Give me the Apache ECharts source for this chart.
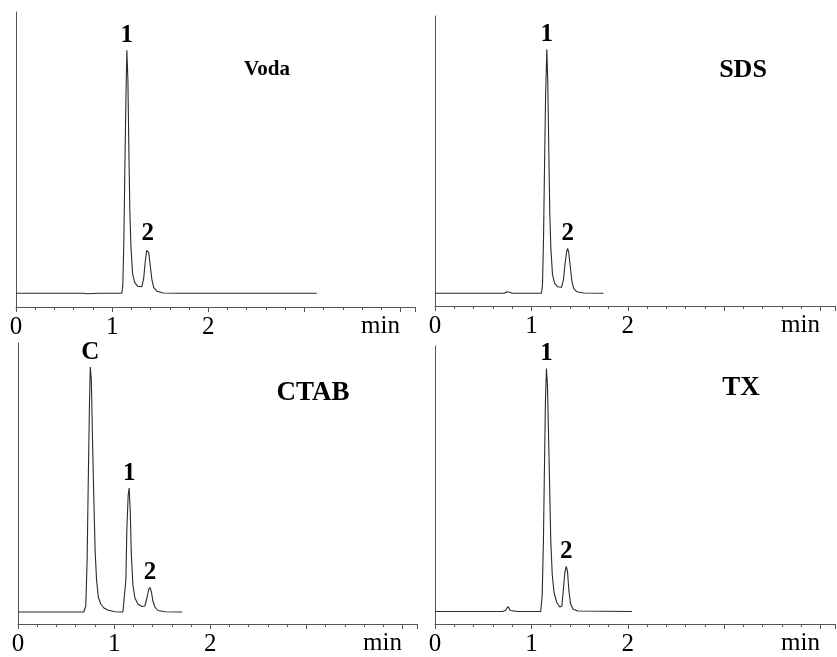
<!DOCTYPE html>
<html>
<head>
<meta charset="utf-8">
<script src="https://cdn.jsdelivr.net/npm/echarts@6/dist/echarts.min.js"></script>
<style>
html,body{margin:0;padding:0;background:#fff;}
#chart{width:837px;height:657px;}
</style>
</head>
<body>
<div id="chart"></div>
<script>
// ---- Data (time in min, detector signal in arbitrary units) ----
const panelNames = ['Voda', 'SDS', 'CTAB', 'TX'];
const xTickLabels = ['0', '1', '2'];
const xUnit = 'min';

const vodaTime   = [0, 0.70, 0.72, 0.74, 0.86, 0.875, 0.89, 1.101, 1.111, 1.122, 1.132, 1.143, 1.153, 1.164, 1.174, 1.184, 1.195, 1.212, 1.234, 1.266, 1.309, 1.328, 1.344, 1.359, 1.370, 1.380, 1.396, 1.413, 1.432, 1.466, 1.531, 1.708, 3.13];
const vodaSignal = [0, 0, -1.5, -0.5, 0, 0.8, 0, 0, 8, 53, 123, 193, 243, 213, 143, 83, 48, 20, 11, 7, 6.6, 15, 31, 43, 45, 41, 28, 14, 6, 2, 0.3, 0, 0];
const vodaPeaks  = [[1.153, 243, '1'], [1.370, 45, '2']];

const sdsTime   = [0, 0.72, 0.745, 0.757, 0.775, 0.80, 1.104, 1.115, 1.126, 1.136, 1.147, 1.160, 1.170, 1.181, 1.191, 1.202, 1.219, 1.241, 1.273, 1.313, 1.333, 1.350, 1.366, 1.376, 1.387, 1.402, 1.419, 1.438, 1.472, 1.54, 1.747];
const sdsSignal = [0, 0, 1.5, 2, 1, 0, 0, 8, 55, 125, 195, 244, 212, 140, 80, 45, 19, 10, 6.5, 6, 14, 30, 42, 45, 41, 28, 13, 5, 1.5, 0.3, 0];
const sdsPeaks  = [[1.160, 244, '1'], [1.376, 45, '2']];

const ctabTime   = [0, 0.684, 0.705, 0.719, 0.731, 0.744, 0.752, 0.763, 0.775, 0.789, 0.802, 0.817, 0.835, 0.861, 0.893, 0.934, 1.007, 1.091, 1.111, 1.122, 1.132, 1.146, 1.156, 1.167, 1.179, 1.195, 1.216, 1.247, 1.289, 1.320, 1.341, 1.358, 1.372, 1.388, 1.403, 1.424, 1.455, 1.528, 1.708];
const ctabSignal = [0, 0, 6, 52, 132, 212, 245, 232, 172, 112, 62, 32, 15, 8, 4, 2, 0.3, 0, 2, 32, 82, 117, 124, 102, 57, 27, 14, 8, 5.5, 6, 14, 22, 24.5, 20, 11, 5, 1.5, 0.3, 0];
const ctabPeaks  = [[0.752, 245, 'C'], [1.156, 124, '1'], [1.372, 24.5, '2']];

const txTime   = [0, 0.70, 0.73, 0.757, 0.78, 0.80, 0.86, 0.872, 0.885, 1.097, 1.112, 1.125, 1.135, 1.146, 1.156, 1.167, 1.177, 1.188, 1.201, 1.217, 1.235, 1.264, 1.295, 1.316, 1.333, 1.347, 1.362, 1.375, 1.388, 1.405, 1.430, 1.482, 2.045];
const txSignal = [0, 0, 1, 5, 1, 0, 0, 1.2, 0, 0, 16, 71, 141, 211, 243, 226, 181, 131, 71, 36, 19, 9, 4.5, 5.5, 23, 39, 45, 40, 22, 8.5, 2.5, 0.5, 0];
const txPeaks  = [[1.156, 243, '1'], [1.362, 45, '2']];

// ---- Layout / style (not data) ----
const layout = [
  {left: 16,  top: 12,  width: 399, height: 295, yMin: -13.7, yMax: 281.3, nameX: 267, nameY: 70,  nameSize: 21},
  {left: 435, top: 16,  width: 400, height: 290, yMin: -12.7, yMax: 277.3, nameX: 743, nameY: 70,  nameSize: 26},
  {left: 18,  top: 343, width: 399, height: 281, yMin: -12,   yMax: 269,   nameX: 313, nameY: 393, nameSize: 27},
  {left: 435, top: 346, width: 400, height: 278, yMin: -12.5, yMax: 265.5, nameX: 741, nameY: 388, nameSize: 27}
];
const traces = [[vodaTime, vodaSignal], [sdsTime, sdsSignal], [ctabTime, ctabSignal], [txTime, txSignal]];
const peaks = [vodaPeaks, sdsPeaks, ctabPeaks, txPeaks];
const SERIF = '"Liberation Serif", "DejaVu Serif", serif';
const axisColor = '#555';
const lineColor = '#2a2a2a';

const grids = [], xAxes = [], yAxes = [], series = [], graphics = [];
layout.forEach((L, i) => {
  grids.push({left: L.left, top: L.top, width: L.width, height: L.height, containLabel: false});
  xAxes.push({
    type: 'value', gridIndex: i, min: 0, max: 4.15, interval: 1,
    axisLine: {show: true, onZero: false, lineStyle: {color: axisColor, width: 1}},
    axisTick: {show: true, length: 5, inside: false, lineStyle: {color: axisColor}},
    minorTick: {show: true, splitNumber: 5, length: 3, lineStyle: {color: axisColor}},
    splitLine: {show: false},
    axisLabel: {
      show: true, margin: 8, color: '#000', fontFamily: SERIF, fontSize: 25,
      showMaxLabel: false,
      formatter: v => (v <= 2 ? xTickLabels[Math.round(v)] : '')
    },
    name: xUnit, nameLocation: 'end', nameGap: -15,
    nameTextStyle: {color: '#000', fontFamily: SERIF, fontSize: 25, align: 'right', verticalAlign: 'top', padding: [7, 0, 0, 0]}
  });
  yAxes.push({
    type: 'value', gridIndex: i, min: L.yMin, max: L.yMax,
    axisLine: {show: true, onZero: false, lineStyle: {color: axisColor, width: 1}},
    axisTick: {show: false}, axisLabel: {show: false}, splitLine: {show: false}
  });
  const [t, s] = traces[i];
  series.push({
    type: 'line', xAxisIndex: i, yAxisIndex: i, showSymbol: false, symbol: 'none',
    animation: false, lineStyle: {color: lineColor, width: 1.1},
    data: t.map((x, k) => [x, s[k]])
  });
  series.push({
    type: 'scatter', xAxisIndex: i, yAxisIndex: i, symbolSize: 0, animation: false,
    itemStyle: {color: '#000', opacity: 1},
    label: {show: true, position: 'top', distance: 2, color: '#000', opacity: 1, fontFamily: SERIF, fontWeight: 'bold', fontSize: 25,
            formatter: p => p.data[2]},
    emphasis: {disabled: true},
    data: peaks[i]
  });
  graphics.push({
    type: 'text', x: L.nameX, y: L.nameY,
    style: {text: panelNames[i], fill: '#000', font: 'bold ' + L.nameSize + 'px ' + SERIF, textAlign: 'center', textVerticalAlign: 'middle'}
  });
});

const chart = echarts.init(document.getElementById('chart'), null, {renderer: 'canvas'});
chart.setOption({
  backgroundColor: '#fff',
  animation: false,
  grid: grids, xAxis: xAxes, yAxis: yAxes, series: series, graphic: graphics
});
</script>
</body>
</html>
